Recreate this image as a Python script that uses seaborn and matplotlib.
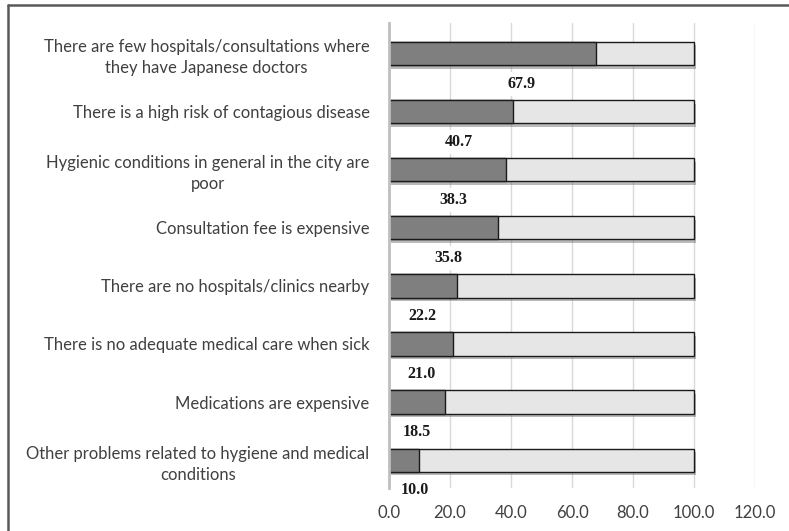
import matplotlib
matplotlib.use("Agg")
import matplotlib.pyplot as plt
import matplotlib.patheffects as pe
from matplotlib.lines import Line2D
import seaborn as sns
import pandas as pd

categories = [
    "There are few hospitals/consultations where\nthey have Japanese doctors",
    "There is a high risk of contagious disease",
    "Hygienic conditions in general in the city are\npoor",
    "Consultation fee is expensive",
    "There are no hospitals/clinics nearby",
    "There is no adequate medical care when sick",
    "Medications are expensive",
    "Other problems related to hygiene and medical\nconditions",
]
values = [67.9, 40.7, 38.3, 35.8, 22.2, 21.0, 18.5, 10.0]
totals = [100.0] * len(categories)
xticks = [0, 20, 40, 60, 80, 100, 120]

df = pd.DataFrame({"item": categories, "value": values, "total": totals})

sns.set_style("white")
plt.rcParams["font.family"] = ["Lato", "DejaVu Sans"]

fig = plt.figure(figsize=(7.89, 5.31), dpi=100)
ax = fig.add_axes([0.493, 0.081, 0.464, 0.876])

shadow = [pe.SimplePatchShadow(offset=(1.5, -2.5), shadow_rgbFace="#777777", alpha=0.5), pe.Normal()]

sns.barplot(data=df, x="total", y="item", orient="h", color="#e6e6e6",
            edgecolor="#1a1a1a", linewidth=1.0, width=0.4, saturation=1, ax=ax)
sns.barplot(data=df, x="value", y="item", orient="h", color="#7f7f7f",
            edgecolor="#1a1a1a", linewidth=1.0, width=0.4, saturation=1, ax=ax)

for i, p in enumerate(ax.patches):
    if i < len(categories):
        p.set_path_effects(shadow)

# value labels sit under each bar
for i, v in enumerate(values):
    lx = max(v / 2 + 0.25 * max(v - 30, 0), 8.4)
    ax.text(lx, i + 0.52, f"{v:.1f}", ha="center", va="center",
            fontsize=11.5, fontweight="bold", family="Liberation Serif",
            color="#1a1a1a", clip_on=False, zorder=5,
            bbox=dict(boxstyle="square,pad=0.25", fc="white", ec="none"))

ax.set_xlim(0, 120)
ax.set_ylim(7.48, -0.53)
ax.set_xticks(xticks)
ax.set_xticklabels([f"{t:.1f}" for t in xticks])
ax.set_xlabel("")
ax.set_ylabel("")
ax.grid(axis="x", color="#d9d9d9", linewidth=1.0)
ax.set_axisbelow(True)
for s in ["top", "right", "bottom"]:
    ax.spines[s].set_visible(False)
ax.spines["left"].set_color("#bfbfbf")
ax.spines["left"].set_linewidth(2)
ax.tick_params(axis="both", length=0, labelsize=12, labelcolor="#404040")
ax.tick_params(axis="y", pad=14)
ax.tick_params(axis="x", pad=12)
for t in ax.get_yticklabels():
    t.set_multialignment("center")
    t.set_linespacing(1.4)

# chart border (top and left edges)
fig.add_artist(Line2D([8 / 789, 1], [1 - 5 / 531, 1 - 5 / 531], color="#595959", lw=1.8))
fig.add_artist(Line2D([8 / 789, 8 / 789], [0, 1 - 5 / 531], color="#595959", lw=1.8))

fig.savefig("out.png", dpi=100)
